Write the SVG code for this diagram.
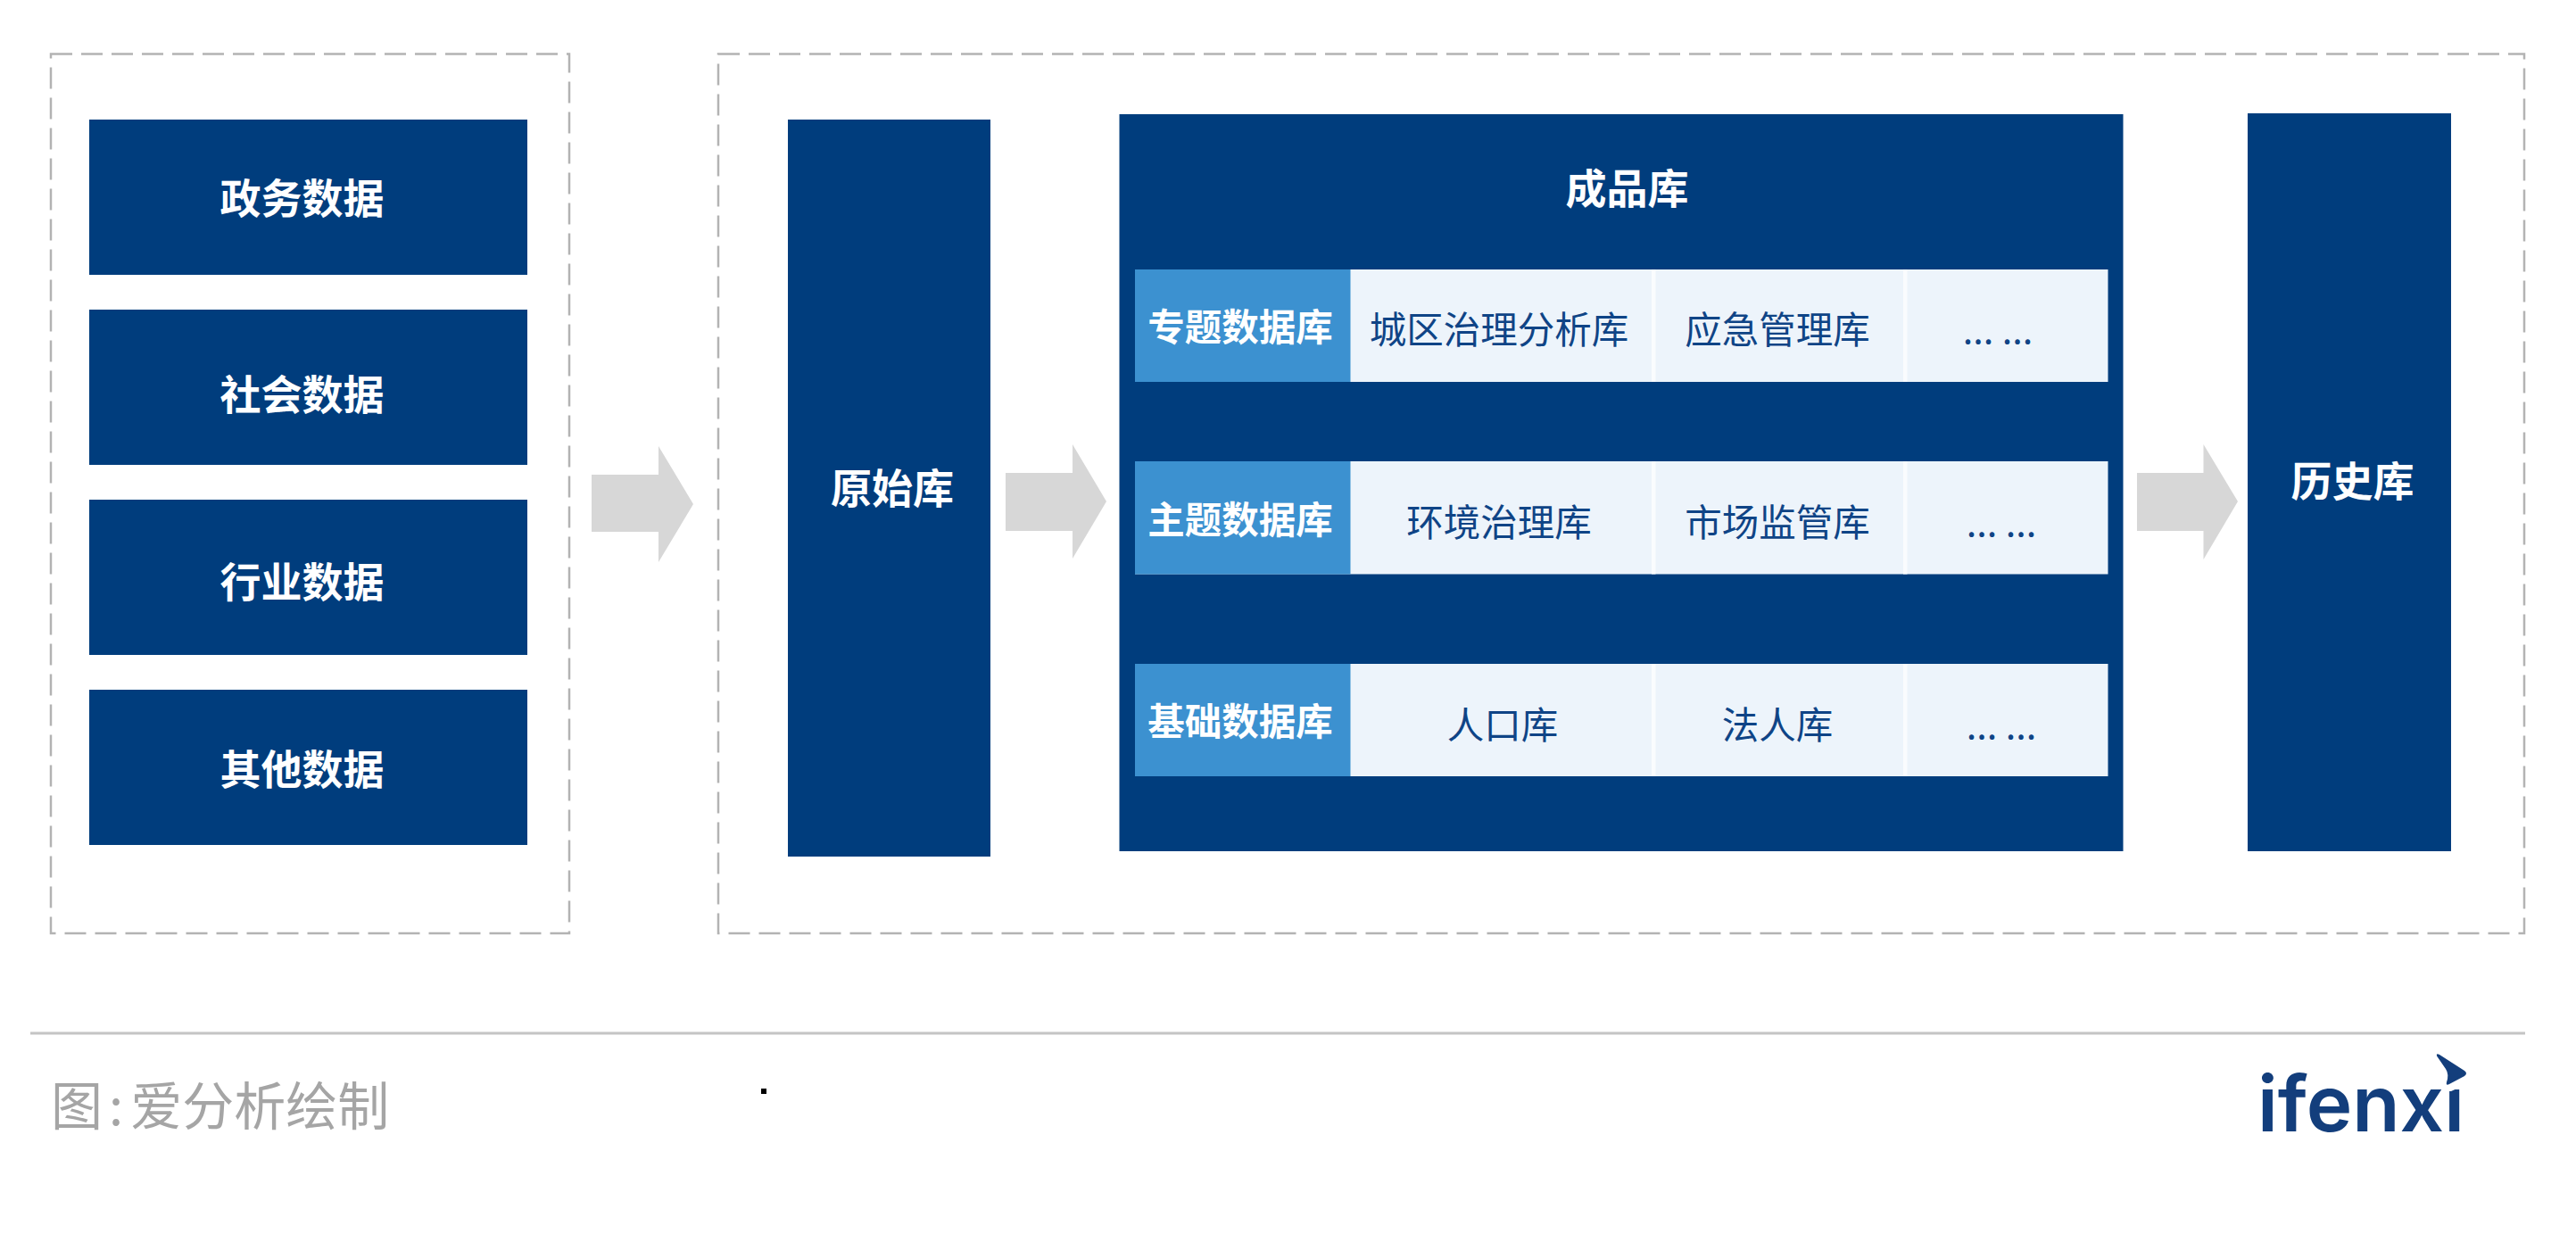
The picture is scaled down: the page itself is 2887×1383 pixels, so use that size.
<svg xmlns="http://www.w3.org/2000/svg" width="2887" height="1383" viewBox="0 0 2887 1383">
<style>
text{font-family:"Noto Sans CJK SC","Noto Sans",sans-serif;text-anchor:middle}
.navy{fill:#003d7d}
.dash{fill:none;stroke:#b3b3b3;stroke-width:2.5;stroke-dasharray:24 10}
.arrow{fill:#d7d7d7}
.w{fill:#fff;font-weight:700;font-size:46px}
.s{fill:#fff;font-weight:700;font-size:41.5px}
.i{fill:#0f4486;font-size:41.5px}
.tag{fill:#3c91d0}
.cell{fill:#edf4fb}
.sep{fill:#fafcfe}
</style>
<rect width="2887" height="1383" fill="#fff"/>
<g id="source-frame"><rect class="dash" x="57" y="60.500" width="581" height="985.500"/></g>
<g id="warehouse-frame"><rect class="dash" x="805" y="60.500" width="2024" height="985.500"/></g>
<g id="n-gov"><rect class="navy" x="100" y="134" width="491" height="174"/><text class="w" x="338.500" y="239">政务数据</text></g>
<g id="n-social"><rect class="navy" x="100" y="347" width="491" height="174"/><text class="w" x="338.500" y="459">社会数据</text></g>
<g id="n-industry"><rect class="navy" x="100" y="560" width="491" height="174"/><text class="w" x="338.500" y="669">行业数据</text></g>
<g id="n-other"><rect class="navy" x="100" y="773" width="491" height="174"/><text class="w" x="338.500" y="879">其他数据</text></g>
<g id="connectors">
<polygon class="arrow" points="663,532 738,532 738,500 777,565 738,630 738,596 663,596"/>
<polygon class="arrow" points="1127,530 1202,530 1202,498 1240,562 1202,626 1202,595 1127,595"/>
<polygon class="arrow" points="2395,530 2469.500,530 2469.500,498 2508,562 2469.500,627 2469.500,595 2395,595"/>
</g>
<g id="n-raw"><rect class="navy" x="883" y="134" width="227" height="826"/><text class="w" x="1000" y="564">原始库</text></g>
<g id="n-finished"><rect class="navy" x="1254.500" y="128" width="1125" height="826"/><text class="w" x="1823.500" y="228">成品库</text></g>
<g id="row-topic">
<rect class="cell" x="1272" y="302" width="1090.500" height="126"/><rect class="tag" x="1272" y="302" width="241.500" height="126"/>
<rect class="sep" x="1851" y="302" width="4.500" height="126"/><rect class="sep" x="2133" y="302" width="4.500" height="126"/>
<text class="s" x="1390" y="382">专题数据库</text><text class="i" x="1680" y="385">城区治理分析库</text><text class="i" x="1992" y="385">应急管理库</text><text class="i" x="2239" y="385">... ...</text>
</g>
<g id="row-subject">
<rect class="cell" x="1272" y="517" width="1090.500" height="126.500"/><rect class="tag" x="1272" y="517" width="241.500" height="126.500"/>
<rect class="sep" x="1851" y="517" width="4.500" height="126.500"/><rect class="sep" x="2133" y="517" width="4.500" height="126.500"/>
<text class="s" x="1390" y="598">主题数据库</text><text class="i" x="1680" y="601">环境治理库</text><text class="i" x="1992" y="601">市场监管库</text><text class="i" x="2243" y="601">... ...</text>
</g>
<g id="row-base">
<rect class="cell" x="1272" y="744" width="1090.500" height="126"/><rect class="tag" x="1272" y="744" width="241.500" height="126"/>
<rect class="sep" x="1851" y="744" width="4.500" height="126"/><rect class="sep" x="2133" y="744" width="4.500" height="126"/>
<text class="s" x="1390" y="824">基础数据库</text><text class="i" x="1684" y="828">人口库</text><text class="i" x="1992" y="828">法人库</text><text class="i" x="2243" y="828">... ...</text>
</g>
<g id="n-history"><rect class="navy" x="2519" y="127" width="228" height="827"/><text class="w" x="2636.500" y="556">历史库</text></g>
<g id="footer">
<rect x="34" y="1156.500" width="2796" height="3" fill="#c4c4c4"/>
<text x="57" y="1261" font-size="58" fill="#a5a5a5" style="text-anchor:start">图<tspan dx="7">:</tspan><tspan dx="8">爱分析绘制</tspan></text>
<rect x="853" y="1220" width="6" height="6" fill="#000"/>
</g>
<g id="logo">
<text x="2646" y="1268" font-size="87" font-weight="600" fill="#133e7c" textLength="232" lengthAdjust="spacingAndGlyphs" style="font-family:Inter,sans-serif">ifenxi</text>
<polygon points="2742,1190 2772,1190 2772,1218 2758,1218 2747,1223 2742,1223" fill="#fff"/>
<path d="M2731 1183.500Q2730 1180 2734 1182L2762 1200Q2766 1203 2762 1206L2745 1215Q2741 1217 2742 1213Q2745 1204 2741 1198Z" fill="#133e7c"/>
</g>
</svg>
